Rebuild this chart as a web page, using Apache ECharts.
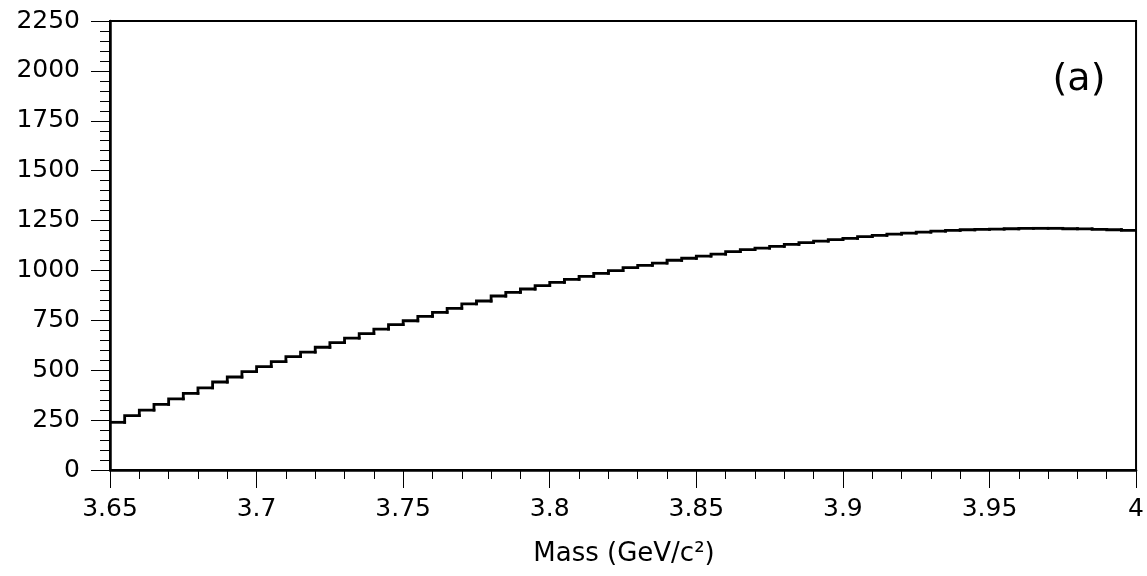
<!DOCTYPE html>
<html>
<head>
<meta charset="utf-8">
<script src="https://cdn.jsdelivr.net/npm/echarts@6/dist/echarts.min.js"></script>
<style>html,body{margin:0;padding:0;background:#fff;}#c{width:1147px;height:576px;}</style>
</head>
<body>
<div id="c"></div>
<script>
// Histogram: 70 bins of width 0.005 GeV/c^2 from 3.65 to 4.0
const binStart = 3.65;
const binWidth = 0.005;
const counts = [
  239, 272, 300, 329, 356, 384, 412, 441, 466, 493,
  518, 543, 568, 591, 615, 638, 661, 683, 706, 728,
  748, 770, 790, 810, 832, 847, 872, 890, 907, 924,
  940, 955, 970, 985, 999, 1014, 1025, 1037, 1051, 1061,
  1072, 1082, 1094, 1104, 1112, 1121, 1131, 1139, 1147, 1154,
  1161, 1169, 1176, 1182, 1187, 1192, 1197, 1201, 1204, 1206,
  1207, 1209, 1211, 1211, 1211, 1209, 1208, 1206, 1204, 1201
];
const xAxisTitle = 'Mass (GeV/c\u00B2)';
const panelLabel = '(a)';

// each bin: [left edge, right edge, count, previous bin count]
const binData = counts.map((v, i) => [
  +(binStart + i * binWidth).toFixed(4),
  +(binStart + (i + 1) * binWidth).toFixed(4),
  v,
  i === 0 ? v : counts[i - 1]
]);

const font = 'DejaVu Sans';
const chart = echarts.init(document.getElementById('c'), null, {renderer: 'canvas'});
chart.setOption({
  animation: false,
  backgroundColor: '#fff',
  grid: {left: 110, right: 9, top: 21, bottom: 106, show: true, borderColor: '#000', borderWidth: 2, backgroundColor: 'transparent'},
  xAxis: {
    type: 'value', min: 3.65, max: 4, interval: 0.05,
    axisLine: {show: true, onZero: false, lineStyle: {color: '#000', width: 2.5}},
    axisTick: {show: true, inside: false, length: 18, lineStyle: {color: '#000', width: 1}},
    minorTick: {show: true, splitNumber: 5, length: 9, lineStyle: {color: '#000', width: 1}},
    splitLine: {show: false},
    axisLabel: {color: '#000', fontFamily: font, fontSize: 25, margin: 27,
      formatter: v => String(+v.toFixed(2))}
  },
  yAxis: {
    type: 'value', min: 0, max: 2250, interval: 250,
    axisLine: {show: true, lineStyle: {color: '#000', width: 2.5}},
    axisTick: {show: true, inside: false, length: 19, lineStyle: {color: '#000', width: 1}},
    minorTick: {show: true, splitNumber: 5, length: 10, lineStyle: {color: '#000', width: 1}},
    splitLine: {show: false},
    axisLabel: {color: '#000', fontFamily: font, fontSize: 25, margin: 30,
      formatter: v => String(v)}
  },
  graphic: [
    {type: 'text', x: 624, y: 554, style: {text: xAxisTitle, fill: '#000', font: '26px "DejaVu Sans"', textAlign: 'center', textVerticalAlign: 'middle'}},
    {type: 'text', x: 1079, y: 80, style: {text: panelLabel, fill: '#000', font: '38px "DejaVu Sans"', textAlign: 'center', textVerticalAlign: 'middle'}}
  ],
  series: [{
    type: 'custom',
    data: binData,
    encode: {x: [0, 1], y: 2},
    clip: true,
    renderItem: function (params, api) {
      const x0 = api.value(0), x1 = api.value(1), y = api.value(2), yp = api.value(3);
      const p0 = api.coord([x0, yp]);
      const p1 = api.coord([x0, y]);
      const p2 = api.coord([x1, y]);
      return {
        type: 'polyline',
        shape: {points: [p0, p1, p2]},
        style: {stroke: '#000', lineWidth: 2.8, fill: null, lineCap: 'square', lineJoin: 'miter'}
      };
    }
  }]
});
</script>
</body>
</html>
